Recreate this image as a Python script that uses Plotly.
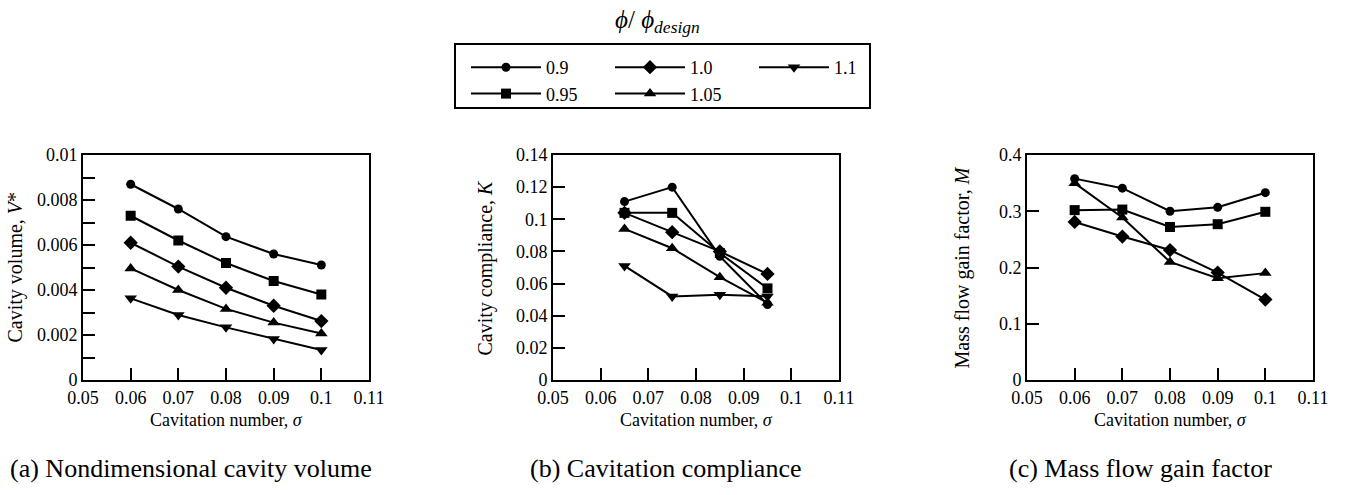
import plotly.graph_objects as go

# Cavitation numbers for each panel
sigma_ac = [0.06, 0.07, 0.08, 0.09, 0.10]
sigma_b = [0.065, 0.075, 0.085, 0.095]

# Flow coefficient ratios phi/phi_design
phi_labels = ["0.9", "0.95", "1.0", "1.05", "1.1"]

# (a) Nondimensional cavity volume V*
V_09 = [0.0087, 0.0076, 0.00637, 0.0056, 0.00511]
V_095 = [0.0073, 0.0062, 0.0052, 0.0044, 0.0038]
V_10 = [0.0061, 0.00504, 0.0041, 0.0033, 0.00262]
V_105 = [0.00496, 0.0040, 0.00316, 0.00255, 0.00207]
V_11 = [0.00363, 0.00289, 0.00234, 0.00182, 0.00133]

# (b) Cavitation compliance K
K_09 = [0.111, 0.120, 0.077, 0.047]
K_095 = [0.104, 0.104, 0.079, 0.057]
K_10 = [0.104, 0.092, 0.080, 0.066]
K_105 = [0.094, 0.082, 0.064, 0.048]
K_11 = [0.071, 0.052, 0.053, 0.052]

# (c) Mass flow gain factor M
M_09 = [0.358, 0.341, 0.300, 0.307, 0.333]
M_095 = [0.302, 0.303, 0.272, 0.277, 0.299]
M_10 = [0.281, 0.255, 0.231, 0.191, 0.143]
M_105 = [0.350, 0.289, 0.210, 0.181, 0.190]

symbols = {"0.9": ("circle", 9), "0.95": ("square", 10), "1.0": ("diamond", 11),
           "1.05": ("triangle-up", 11), "1.1": ("triangle-down", 11)}
legend_of = {"0.9": "legend", "0.95": "legend", "1.0": "legend2",
             "1.05": "legend2", "1.1": "legend3"}

W, H = 1347, 495
FONT = "Liberation Serif"

panels = [
    ("x", "y", sigma_ac, {"0.9": V_09, "0.95": V_095, "1.0": V_10, "1.05": V_105, "1.1": V_11}),
    ("x2", "y2", sigma_b, {"0.9": K_09, "0.95": K_095, "1.0": K_10, "1.05": K_105, "1.1": K_11}),
    ("x3", "y3", sigma_ac, {"0.9": M_09, "0.95": M_095, "1.0": M_10, "1.05": M_105}),
]

fig = go.Figure()
for i, (xa, ya, xs, series) in enumerate(panels):
    for lab in phi_labels:
        if lab not in series:
            continue
        sym, size = symbols[lab]
        fig.add_trace(go.Scatter(
            x=xs, y=series[lab], xaxis=xa, yaxis=ya, name=lab,
            mode="lines+markers",
            line=dict(color="black", width=2),
            marker=dict(symbol=sym, size=size, color="black"),
            showlegend=(i == 0), legend=legend_of[lab],
        ))

def px_x(p):
    return p / W

def px_y(p):
    return 1 - p / H

ydom = [px_y(380), px_y(155)]
xdoms = [(83, 369), (553, 839), (1027, 1313)]

axis_common = dict(
    showline=True, mirror=True, linecolor="black", linewidth=2,
    ticks="inside", ticklen=12, tickwidth=2, tickcolor="black",
    showgrid=False, zeroline=False, automargin=False,
    tickfont=dict(family=FONT, size=18, color="black"),
)

yranges = [(0, 0.01, 0.002, 0.001), (0, 0.14, 0.02, None), (0, 0.4, 0.1, None)]
for k, ((x0, x1), (y0, y1, dt, mdt)) in enumerate(zip(xdoms, yranges)):
    sx = "" if k == 0 else str(k + 1)
    xa = dict(axis_common, domain=[px_x(x0), px_x(x1)], range=[0.05, 0.11],
              tick0=0.05, dtick=0.01, anchor="y" + sx)
    ya = dict(axis_common, domain=ydom, range=[y0, y1], tick0=0, dtick=dt,
              anchor="x" + sx)
    if mdt:
        ya["minor"] = dict(dtick=mdt, ticks="inside", ticklen=12, tickwidth=2,
                           tickcolor="black", showgrid=False)
    fig.layout["xaxis" + sx] = xa
    fig.layout["yaxis" + sx] = ya

annotations = []
ytitles = ["Cavity volume, <i>V</i>*", "Cavity compliance, <i>K</i>",
           "Mass flow gain factor, <i>M</i>"]
captions = ["(a) Nondimensional cavity volume", "(b) Cavitation compliance",
            "(c) Mass flow gain factor"]
cap_x = [191, 665, 1140]
ytitle_shift = [-68, -68, -65]
for k in range(3):
    sx = "" if k == 0 else str(k + 1)
    annotations.append(dict(
        text="Cavitation number, <i>σ</i>", xref="x%s domain" % sx, yref="y%s domain" % sx,
        x=0.5, y=0, yshift=-40, showarrow=False, xanchor="center", yanchor="middle",
        font=dict(family=FONT, size=18, color="black")))
    annotations.append(dict(
        text=ytitles[k], xref="x%s domain" % sx, yref="y%s domain" % sx,
        x=0, y=0.5, xshift=ytitle_shift[k], showarrow=False, textangle=-90,
        xanchor="center", yanchor="middle",
        font=dict(family=FONT, size=20, color="black")))
    annotations.append(dict(
        text=captions[k], xref="paper", yref="paper", x=px_x(cap_x[k]), y=px_y(468),
        showarrow=False, xanchor="center", yanchor="middle",
        font=dict(family=FONT, size=26, color="black")))

annotations.append(dict(
    text="<i>ϕ</i>/ <i>ϕ</i><sub><i>design</i></sub>", xref="paper", yref="paper",
    x=px_x(657), y=px_y(22), showarrow=False, xanchor="center", yanchor="middle",
    font=dict(family=FONT, size=25, color="black")))

legend_style = dict(
    orientation="v", xanchor="left", yanchor="top", y=px_y(49),
    bgcolor="rgba(0,0,0,0)", borderwidth=0, itemwidth=70,
    font=dict(family=FONT, size=18, color="black"), tracegroupgap=0,
)

fig.update_layout(
    width=W, height=H, margin=dict(l=0, r=0, t=0, b=0),
    paper_bgcolor="white", plot_bgcolor="white",
    annotations=annotations,
    legend=dict(legend_style, x=px_x(466)),
    legend2=dict(legend_style, x=px_x(610)),
    legend3=dict(legend_style, x=px_x(754)),
    shapes=[dict(type="rect", xref="paper", yref="paper",
                 x0=px_x(455), x1=px_x(870), y0=px_y(108), y1=px_y(44),
                 line=dict(color="black", width=2))],
)

fig.write_html("out.html")
